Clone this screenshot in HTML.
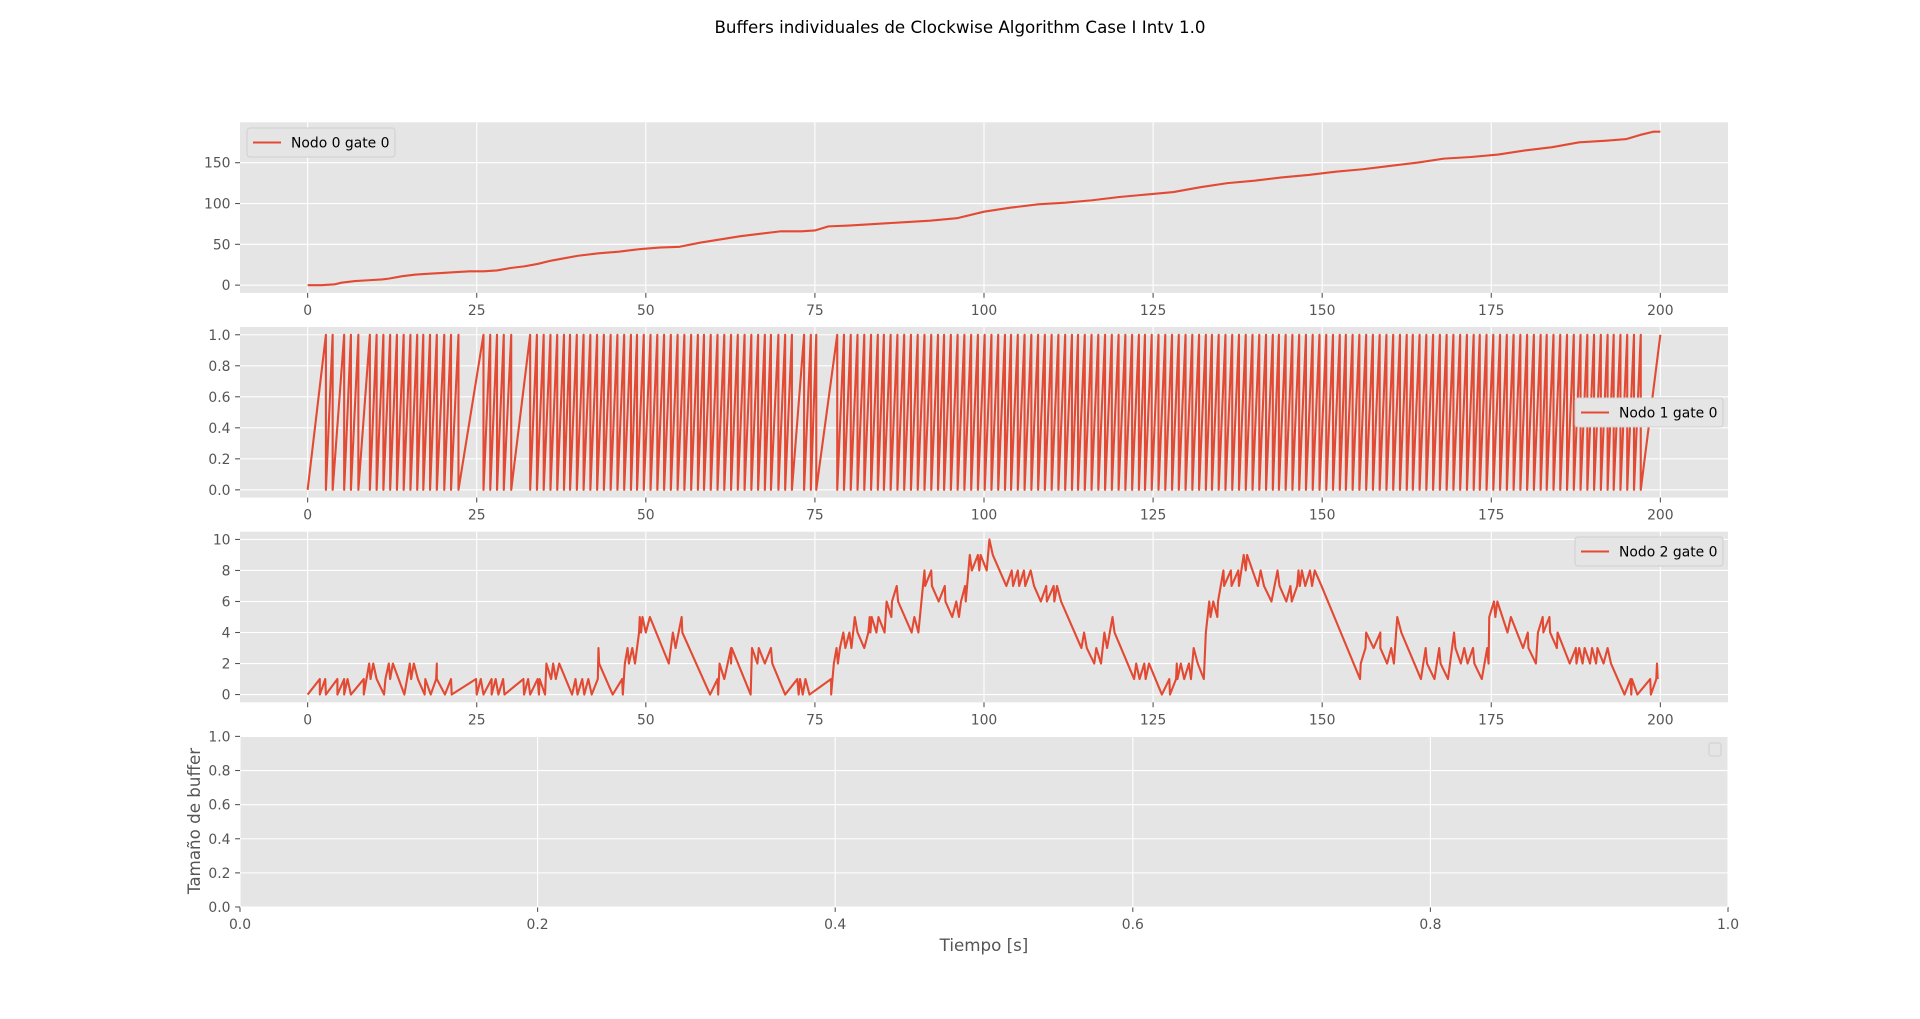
<!DOCTYPE html>
<html><head><meta charset="utf-8"><title>Buffers individuales</title>
<style>
html,body{margin:0;padding:0;background:#fff;}
svg{display:block;font-family:"DejaVu Sans","Liberation Sans",sans-serif;}
</style></head>
<body>
<svg id="fig" xmlns="http://www.w3.org/2000/svg" width="1920" height="1019" viewBox="0 0 1920 1019">
<rect width="1920" height="1019" fill="#fff"/>
<text x="960" y="33" text-anchor="middle" font-size="16.7" fill="#000">Buffers individuales de Clockwise Algorithm Case I Intv 1.0</text>
<text x="984" y="951" text-anchor="middle" font-size="16.7" fill="#555">Tiempo [s]</text>
<text transform="translate(200,821) rotate(-90)" text-anchor="middle" font-size="16.7" fill="#555">Tamaño de buffer</text>
</svg>
<script>
// ---- data ----
const n0Times = [0,2,4,5,7,9,11,12,14,16,18,20,22,24,26,28,30,32,34,36,38,40,43,46,49,52,55,58,61,64,67,70,73,75,77,80,84,88,92,96,100,104,108,112,116,120,124,128,132,136,140,144,148,152,156,160,164,168,172,176,180,184,188,192,195,197,199,200];
const n0Values = [0,0,1,3,5,6,7,8,11,13,14,15,16,17,17,18,21,23,26,30,33,36,39,41,44,46,47,52,56,60,63,66,66,67,72,73,75,77,79,82,90,95,99,101,104,108,111,114,120,125,128,132,135,139,142,146,150,155,157,160,165,169,175,177,179,184,188,188];

const n1Peaks = [2.7,3.7,5.4,6.4,7.5,9.2,10.2,11.2,12.2,13.2,14.2,15.2,16.2,17.1,18.1,19.1,20.2,21.2,22.3,26.0,27.0,28.0,29.0,30.1,32.9,33.9,34.9,35.9,36.9,37.9,38.8,39.8,40.8,41.8,42.8,43.8,44.8,45.8,46.8,47.8,48.7,49.7,50.7,51.7,52.7,53.7,54.7,55.7,56.7,57.7,58.6,59.6,60.6,61.6,62.6,63.6,64.6,65.6,66.6,67.6,68.5,69.6,70.6,71.6,73.4,74.4,75.2,78.3,79.3,80.3,81.3,82.3,83.3,84.3,85.2,86.2,87.2,88.2,89.2,90.2,91.2,92.2,93.2,94.1,95.1,96.1,97.1,98.1,99.1,100.1,101.1,102.1,103.1,104.0,105.0,106.0,107.0,108.0,109.0,110.0,111.0,112.0,113.0,113.9,114.9,115.9,116.9,117.9,118.9,119.9,120.9,121.9,122.9,123.8,124.8,125.8,126.8,127.8,128.8,129.8,130.8,131.8,132.8,133.7,134.7,135.7,136.7,137.7,138.7,139.7,140.7,141.7,142.7,143.6,144.6,145.6,146.6,147.6,148.6,149.6,150.6,151.6,152.6,153.5,154.5,155.5,156.5,157.5,158.5,159.5,160.5,161.5,162.5,163.4,164.4,165.4,166.4,167.4,168.4,169.4,170.4,171.4,172.4,173.3,174.3,175.3,176.3,177.3,178.3,179.3,180.3,181.3,182.3,183.2,184.2,185.2,186.2,187.2,188.2,189.2,190.2,191.2,192.2,193.1,194.1,195.1,196.1,197.1];
const n1EndTime = 200;

const n2Times = [0.0,1.8,1.8,2.6,2.7,4.4,4.4,5.4,5.4,5.9,6.4,8.3,8.3,9.1,9.3,9.7,10.2,11.3,11.5,12.0,12.2,12.6,14.3,15.1,15.3,15.7,16.3,17.3,17.4,18.2,19.0,19.1,19.1,20.3,21.2,21.3,24.9,25.0,25.6,26.0,27.2,27.2,27.8,28.2,28.9,29.1,31.9,32.0,32.6,32.9,34.0,34.2,34.3,35.1,35.3,36.0,36.3,36.7,37.2,39.1,39.6,39.9,40.6,40.9,41.5,42.0,42.9,43.0,43.1,45.1,46.5,46.6,46.9,47.3,47.5,48.0,48.4,49.0,49.1,49.3,49.5,50.0,50.6,53.4,54.0,54.4,55.3,55.4,59.5,60.6,60.7,60.9,61.6,62.6,62.6,62.7,65.5,65.7,66.5,66.7,67.6,68.5,68.7,70.6,72.4,72.6,72.8,73.2,73.6,74.2,77.4,77.4,77.8,78.2,78.4,78.7,79.2,79.5,80.1,80.4,80.9,81.3,82.3,82.9,83.1,83.2,83.4,84.1,84.4,85.3,85.6,86.3,86.4,87.1,87.3,89.3,89.7,90.3,91.2,91.3,92.2,92.3,93.3,94.2,94.3,95.3,95.9,96.3,96.6,97.2,97.3,97.9,98.2,99.1,99.3,99.5,100.4,100.8,101.3,103.3,104.1,104.3,105.0,105.2,105.9,106.1,106.9,107.4,108.4,109.2,109.3,110.3,110.4,110.8,111.4,114.4,114.8,115.2,116.3,116.6,117.3,117.8,118.2,119.0,119.3,122.2,122.5,123.0,123.7,123.9,124.4,126.3,127.4,127.5,128.4,128.5,128.6,129.1,129.6,130.3,130.6,131.0,131.6,132.5,132.8,133.3,133.5,133.9,134.5,134.6,135.4,135.5,136.5,136.6,137.6,137.7,138.4,138.7,138.9,140.5,140.9,141.4,142.5,143.4,143.7,144.7,145.3,145.5,146.3,146.5,146.7,147.0,147.5,148.2,148.5,148.9,149.9,155.6,155.7,156.4,156.5,157.6,158.6,158.6,159.6,160.2,160.6,161.1,161.7,164.6,165.3,165.5,166.6,167.3,167.5,168.6,169.5,169.7,170.5,171.0,171.5,172.3,172.5,173.6,174.4,174.6,174.7,175.4,175.6,175.9,177.4,177.9,178.8,179.7,180.4,180.5,181.6,181.9,182.6,182.7,183.6,183.7,184.7,184.8,186.6,187.5,187.6,188.0,188.5,188.8,189.6,189.9,190.5,190.7,191.6,192.2,192.7,194.7,195.6,195.7,195.8,196.6,198.5,198.6,199.4,199.5,199.6];
const n2Values = [0,1,0,1,0,1,0,1,0,1,0,1,0,2,1,2,1,0,1,2,1,2,0,2,1,2,1,0,1,0,1,2,1,0,1,0,1,0,1,0,1,0,1,0,1,0,1,0,1,0,1,0,1,0,2,1,2,1,2,0,1,0,1,0,1,0,1,3,2,0,1,0,2,3,2,3,2,4,5,4,5,4,5,2,4,3,5,4,0,1,0,2,1,3,2,3,0,3,2,3,2,3,2,0,1,0,1,0,1,0,1,0,2,3,2,3,4,3,4,3,5,4,3,4,5,4,5,4,5,4,6,5,6,7,6,4,5,4,8,7,8,7,6,7,6,5,6,5,6,7,6,9,8,9,8,9,8,10,9,7,8,7,8,7,8,7,8,7,6,7,6,7,6,7,6,3,4,3,2,3,2,4,3,5,4,1,2,1,2,1,2,0,1,0,1,2,1,2,1,2,1,3,2,1,4,6,5,6,5,6,8,7,8,7,8,7,9,8,9,7,8,7,6,8,7,6,7,6,7,8,7,8,7,8,7,8,7,1,2,3,4,3,4,3,2,3,2,5,4,1,3,2,1,3,2,1,4,3,2,3,2,3,2,1,3,2,5,6,5,6,4,5,4,3,4,3,2,4,5,4,5,4,3,4,2,3,2,3,2,3,2,3,2,3,2,3,2,0,1,0,1,0,1,0,1,2,1];

const xTicksTime = [0,25,50,75,100,125,150,175,200];
const yTicks0 = [0,50,100,150];
const yTicks1 = [0.0,0.2,0.4,0.6,0.8,1.0];
const yTicks2 = [0,2,4,6,8,10];
const ticks3 = [0.0,0.2,0.4,0.6,0.8,1.0];

// ---- layout ----
const NS = "http://www.w3.org/2000/svg";
const svg = document.getElementById('fig');
const L = 240, R = 1728, AX_H = 170.6, GAP = 34.1, TOP = 122.3;
const COLOR = '#E24A33';

function mk(tag, attrs, parent){
  const e = document.createElementNS(NS, tag);
  for (const k in attrs) e.setAttribute(k, attrs[k]);
  (parent||svg).appendChild(e);
  return e;
}

function makeAxes(i, xmin, xmax, ymin, ymax, xt, yt, fmtX, fmtY){
  const top = TOP + i*(AX_H+GAP), bot = top + AX_H;
  const g = mk('g', {});
  
  
  const sx = v => L + (v - xmin)/(xmax - xmin)*(R - L);
  const sy = v => bot - (v - ymin)/(ymax - ymin)*AX_H;
  const bg = mk('rect', {x:L, y:top, width:R-L, height:AX_H, fill:'#E5E5E5'}, g);
  
  
  xt.forEach(v => {
    const x = sx(v);
    const gl = mk('line', {x1:x, x2:x, y1:top, y2:bot, stroke:'#fff', 'stroke-width':1.1}, g);
    
    
    mk('line', {x1:x, x2:x, y1:bot, y2:bot+4.9, stroke:'#555', 'stroke-width':1.1}, g);
    const t = mk('text', {x:x, y:bot+22, 'text-anchor':'middle', 'font-size':13.9, fill:'#555'}, g);
    
    
    t.textContent = fmtX(v);
  });
  yt.forEach(v => {
    const y = sy(v);
    const gl = mk('line', {x1:L, x2:R, y1:y, y2:y, stroke:'#fff', 'stroke-width':1.1}, g);
    
    
    mk('line', {x1:L-4.9, x2:L, y1:y, y2:y, stroke:'#555', 'stroke-width':1.1}, g);
    const t = mk('text', {x:L-9.5, y:y+5, 'text-anchor':'end', 'font-size':13.9, fill:'#555'}, g);
    
    
    t.textContent = fmtY(v);
  });
  return {g, sx, sy, top, bot};
}

function drawLine(ax, xs, ys, name){
  let d = '';
  for (let k = 0; k < xs.length; k++) d += (k ? 'L' : 'M') + ax.sx(xs[k]).toFixed(2) + ',' + ax.sy(ys[k]).toFixed(2);
  const p = mk('path', {d, fill:'none', stroke:COLOR, 'stroke-width':2.1, 'stroke-linejoin':'round'}, ax.g);
  
  
}

function legend(ax, x, y, label, name){
  const g = mk('g', {}, ax.g);
  
  
  mk('rect', {x:x, y:y, width:148, height:29, rx:3, fill:'#E5E5E5', stroke:'#d0d0d0', 'stroke-width':1}, g);
  mk('line', {x1:x+6, x2:x+34, y1:y+14.5, y2:y+14.5, stroke:COLOR, 'stroke-width':2.1}, g);
  const t = mk('text', {x:x+44, y:y+19.5, 'font-size':13.9, fill:'#000'}, g);
  t.textContent = label;
}

const intFmt = v => String(v);
const f1 = v => v.toFixed(1);

// Axes 0
const a0 = makeAxes(0, -10, 210, -9.5, 199.5, xTicksTime, yTicks0, intFmt, intFmt);
drawLine(a0, n0Times, n0Values, 'nodo-0-line');
legend(a0, 247, 128, 'Nodo 0 gate 0', 'legend-nodo-0');

// Axes 1
const a1 = makeAxes(1, -10, 210, -0.05, 1.05, xTicksTime, yTicks1, intFmt, f1);
const n1x = [0], n1y = [0];
n1Peaks.forEach(p => { n1x.push(p, p); n1y.push(1, 0); });
n1x.push(n1EndTime); n1y.push(1);
drawLine(a1, n1x, n1y, 'nodo-1-line');
legend(a1, 1575, 398, 'Nodo 1 gate 0', 'legend-nodo-1');

// Axes 2
const a2 = makeAxes(2, -10, 210, -0.5, 10.5, xTicksTime, yTicks2, intFmt, intFmt);
drawLine(a2, n2Times, n2Values, 'nodo-2-line');
legend(a2, 1575, 537, 'Nodo 2 gate 0', 'legend-nodo-2');

// Axes 3 (empty)
const a3 = makeAxes(3, 0, 1, 0, 1, ticks3, ticks3, f1, f1);
const el = mk('rect', {x:1731 - 22, y:743, width:12, height:13, rx:2, fill:'#E5E5E5', stroke:'#d0d0d0', 'stroke-width':1}, a3.g);


</script>
</body></html>
